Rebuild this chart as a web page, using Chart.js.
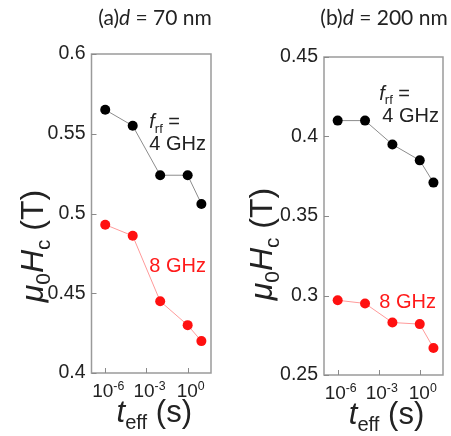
<!DOCTYPE html>
<html>
<head>
<meta charset="utf-8">
<script src="https://cdn.jsdelivr.net/npm/chart.js@4.4.1/dist/chart.umd.min.js"></script>
<style>
  body { margin: 0; background: #fff; }
  #wrap { position: relative; width: 451px; height: 436px; }
  canvas { position: absolute; top: 0; }
</style>
</head>
<body>
<div id="wrap">
  <canvas id="chartA" width="226" height="436" style="left:0"></canvas>
  <canvas id="chartB" width="225" height="436" style="left:226px"></canvas>
</div>
<script>
// data
const tEff = [1e-6, 1e-4, 1e-2, 1, 10];
const hcA4 = [0.565, 0.555, 0.524, 0.524, 0.506];
const hcA8 = [0.493, 0.486, 0.445, 0.430, 0.420];
const hcB4 = [0.410, 0.410, 0.395, 0.385, 0.371];
const hcB8 = [0.297, 0.295, 0.283, 0.282, 0.267];
const xTickValues = [1e-6, 1e-3, 1];
const xTickExps = ['-6', '-3', '0'];
const yTicksA = [0.4, 0.45, 0.5, 0.55, 0.6];
const yTicksB = [0.25, 0.3, 0.35, 0.4, 0.45];

const SANS = "'Liberation Sans', Arial, sans-serif";
const TXT = '#222';

function pts(ys) {
  return tEff.map((x, i) => ({ x: x, y: ys[i] }));
}

// draw text made of pieces (italic / sub / sup)
function drawRich(ctx, parts, x, y, align, size, color) {
  let w = 0;
  const items = parts.map(p => {
    const s = p.sub || p.sup ? size * 0.65 : size;
    const f = (p.italic ? 'italic ' : '') + s + 'px ' + (p.family || SANS);
    ctx.font = f;
    const m = ctx.measureText(p.t).width;
    w += m;
    return { p: p, f: f, m: m };
  });
  let cx = align === 'center' ? x - w / 2 : x;
  ctx.fillStyle = color;
  ctx.textAlign = 'left';
  ctx.textBaseline = 'alphabetic';
  items.forEach(it => {
    ctx.font = it.f;
    let dy = 0;
    if (it.p.sub) dy = size * 0.22;
    if (it.p.sup) dy = -size * 0.38;
    ctx.fillText(it.p.t, cx, y + dy);
    cx += it.m;
  });
}

const panelDeco = {
  id: 'panelDeco',
  afterDatasetsDraw(chart, args, opts) {
    const ctx = chart.ctx;
    const a = chart.chartArea;
    const xs = chart.scales.x, ys = chart.scales.y;
    ctx.save();
    // frame
    ctx.strokeStyle = '#9a9a9a';
    ctx.lineWidth = 1.5;
    ctx.strokeRect(a.left, a.top, a.right - a.left, a.bottom - a.top);
    // inward ticks
    ctx.lineWidth = 1;
    ctx.strokeStyle = '#8a8a8a';
    ctx.beginPath();
    opts.yTicks.forEach(v => {
      const py = Math.round(ys.getPixelForValue(v)) + 0.5;
      ctx.moveTo(a.left, py); ctx.lineTo(a.left + 5, py);
    });
    xTickValues.forEach(v => {
      const px = Math.round(xs.getPixelForValue(v)) + 0.5;
      ctx.moveTo(px, a.bottom); ctx.lineTo(px, a.bottom - 5);
    });
    ctx.stroke();
    // x tick labels 10^n
    xTickValues.forEach((v, i) => {
      const px = xs.getPixelForValue(v);
      drawRich(ctx, [{ t: '10' }, { t: xTickExps[i], sup: true }], px + 3, a.bottom + 24, 'center', 19, TXT);
    });
    // x axis title
    drawRich(ctx, [{ t: 't', italic: true }, { t: 'eff', sub: true }, { t: ' (s)' }],
      (a.left + a.right) / 2 + 3, a.bottom + 49, 'center', 31, TXT);
    // y axis title
    ctx.save();
    ctx.translate(opts.yTitleX, opts.yTitleY);
    ctx.rotate(-Math.PI / 2);
    drawRich(ctx, [{ t: 'μ', italic: true }, { t: '0', sub: true }, { t: 'H', italic: true },
      { t: 'c', sub: true }, { t: ' (T)' }], 0, 11, 'center', 32, TXT);
    ctx.restore();
    // panel title
    drawRich(ctx, [{ t: opts.tag, family: 'Lato' }, { t: 'd', italic: true, family: 'Lato' },
      { t: opts.title, family: 'Lato' }], opts.titleX, 25, 'center', 21, TXT);
    // series labels (vertically centred on the given value)
    const lx = xs.getPixelForValue(opts.labelX);
    const mid = 7;
    drawRich(ctx, [{ t: 'f', italic: true }, { t: 'rf', sub: true }, { t: ' =' }],
      lx, ys.getPixelForValue(opts.fY) + mid, 'left', 20, TXT);
    drawRich(ctx, [{ t: '4 GHz' }], lx + opts.gOff, ys.getPixelForValue(opts.g4Y) + mid, 'left', 20, TXT);
    drawRich(ctx, [{ t: '8 GHz' }], lx, ys.getPixelForValue(opts.g8Y) + mid, 'left', 20, '#ff1a1a');
    ctx.restore();
  }
};

function makePanel(id, s4, s8, yMin, yMax, yTicks, axisW, axisH, pad, deco) {
  return new Chart(document.getElementById(id), {
    type: 'line',
    data: {
      datasets: [
        { data: pts(s4), borderColor: '#8c8c8c', borderWidth: 1, backgroundColor: '#000',
          pointBackgroundColor: '#000', pointBorderWidth: 0, pointRadius: 5 },
        { data: pts(s8), borderColor: '#ff9a9a', borderWidth: 1, backgroundColor: '#f00',
          pointBackgroundColor: '#ff1010', pointBorderWidth: 0, pointRadius: 5 }
      ]
    },
    options: {
      responsive: false,
      animation: false,
      devicePixelRatio: 1,
      layout: { padding: pad },
      plugins: { legend: { display: false }, tooltip: { enabled: false }, panelDeco: deco },
      scales: {
        x: {
          type: 'logarithmic', min: 1e-7, max: 50,
          grid: { display: false, drawTicks: false }, border: { display: false },
          ticks: { display: false },
          afterFit: s => { s.height = axisH; }
        },
        y: {
          min: yMin, max: yMax,
          afterBuildTicks: s => { s.ticks = yTicks.map(v => ({ value: v })); },
          grid: { display: false, drawTicks: false }, border: { display: false },
          ticks: { color: TXT, padding: 6, font: { family: SANS, size: 19.5 },
            callback: v => String(+v.toFixed(2)) },
          afterFit: s => { s.width = axisW; }
        }
      }
    },
    plugins: [panelDeco]
  });
}

makePanel('chartA', hcA4, hcA8, 0.4, 0.6, yTicksA, 91.5, 63,
  { left: 0, right: 15, top: 54, bottom: 0 },
  { yTicks: yTicksA, yTitleX: 32, yTitleY: 246, tag: '(a)', title: ' = 70 nm', titleX: 155,
    labelX: 1.6e-3, fY: 0.5577, g4Y: 0.544, g8Y: 0.468, gOff: 0 });

makePanel('chartB', hcB4, hcB8, 0.25, 0.45, yTicksB, 98, 61,
  { left: 0, right: 8, top: 57, bottom: 0 },
  { yTicks: yTicksB, yTitleX: 35, yTitleY: 244, tag: '(b)', title: ' = 200 nm', titleX: 158,
    labelX: 1.1e-3, fY: 0.4274, g4Y: 0.4136, g8Y: 0.2963, gOff: 3 });
</script>
</body>
</html>
